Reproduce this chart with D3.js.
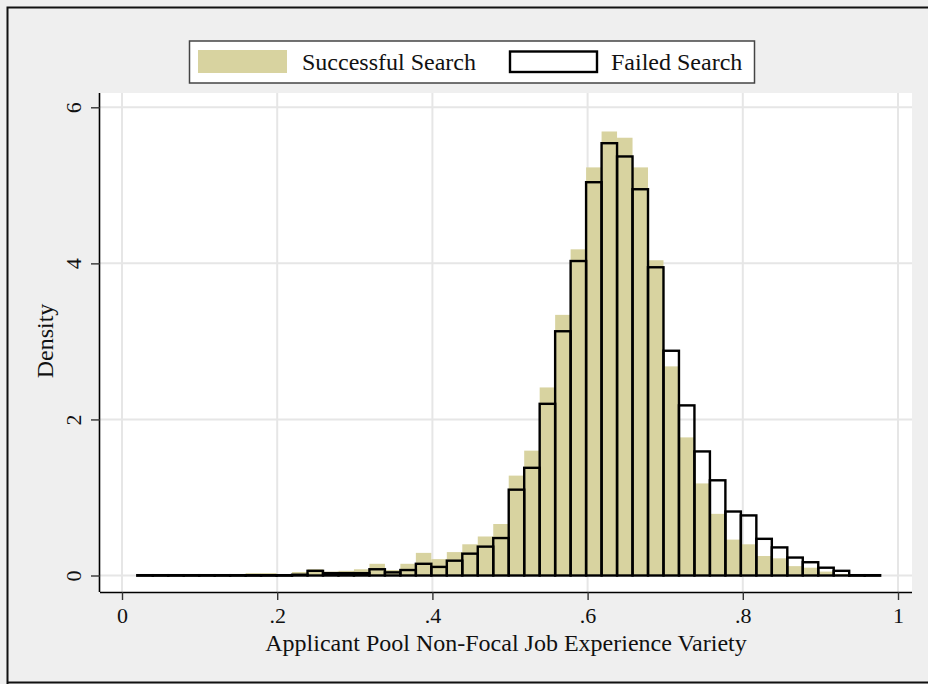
<!DOCTYPE html>
<html>
<head>
<meta charset="utf-8">
<script src="https://cdn.jsdelivr.net/npm/d3@7"></script>
<style>
  html, body { margin: 0; padding: 0; background: #efefef; }
  svg { display: block; }
  text { font-family: "Liberation Serif", "Times New Roman", serif; fill: #111; }
</style>
</head>
<body>
<svg id="chart" width="928" height="684"></svg>
<script>
// ---- Data ----
const binLow = 0.0197;
const binHigh = 0.977;
const successDensity = [
  0, 0, 0, 0, 0, 0, 0, 0.03, 0.03, 0.005,
  0.045, 0.08, 0.05, 0.06, 0.08, 0.15, 0.07, 0.15, 0.29, 0.21,
  0.30, 0.40, 0.50, 0.66, 1.28, 1.60, 2.41, 3.34, 4.18, 5.23,
  5.69, 5.61, 5.23, 4.04, 2.68, 1.77, 1.18, 0.79, 0.46, 0.40,
  0.25, 0.22, 0.12, 0.10, 0.05, 0.02, 0.005, 0
];
const failedDensity = [
  0.004, 0.004, 0.004, 0.004, 0.004, 0.004, 0.004, 0.004, 0.004, 0.004,
  0.01, 0.06, 0.03, 0.03, 0.03, 0.08, 0.04, 0.07, 0.15, 0.11,
  0.19, 0.28, 0.37, 0.48, 1.10, 1.38, 2.20, 3.13, 4.03, 5.04,
  5.54, 5.37, 4.95, 3.95, 2.88, 2.18, 1.59, 1.22, 0.82, 0.77,
  0.47, 0.36, 0.23, 0.17, 0.10, 0.06, 0.004, 0.004
];
const xTicks = [0, 0.2, 0.4, 0.6, 0.8, 1];
const xTickLabels = ["0", ".2", ".4", ".6", ".8", "1"];
const yTicks = [0, 2, 4, 6];
const yTickLabels = ["0", "2", "4", "6"];
const seriesNames = ["Successful Search", "Failed Search"];
const xTitle = "Applicant Pool Non-Focal Job Experience Variety";
const yTitle = "Density";

// ---- Layout ----
const svg = d3.select("#chart");
const W = 928, H = 684;
const plot = { left: 100, right: 912, top: 93, bottom: 592 };
const colSuccess = "#d8d3a0";
const gridCol = "#e6e6e6";
const fs = 24;
const tickFs = 22;

const x = d3.scaleLinear().domain([0, 1]).range([122, 898]);
const y = d3.scaleLinear().domain([0, 6]).range([575.5, 107.3]);

const nBins = successDensity.length;
const binW = (binHigh - binLow) / nBins;
const bins = d3.range(nBins).map(i => ({
  x0: binLow + i * binW,
  x1: binLow + (i + 1) * binW,
  s: successDensity[i],
  f: failedDensity[i]
}));

// background
svg.append("rect").attr("x", 0).attr("y", 0).attr("width", W).attr("height", H).attr("fill", "#efefef");
// outer frame
svg.append("path")
  .attr("d", `M7.5,${H + 2} V7.5 H${W + 2} M7.5,682.5 H${W + 2}`)
  .attr("fill", "none").attr("stroke", "#111").attr("stroke-width", 2);

// plot region
svg.append("rect")
  .attr("x", plot.left).attr("y", plot.top)
  .attr("width", plot.right - plot.left).attr("height", plot.bottom - plot.top)
  .attr("fill", "#ffffff");

// gridlines
const g = svg.append("g");
g.selectAll(".vg").data(xTicks).join("line")
  .attr("x1", d => x(d)).attr("x2", d => x(d))
  .attr("y1", plot.top).attr("y2", plot.bottom)
  .attr("stroke", gridCol).attr("stroke-width", 2);
g.selectAll(".hg").data(yTicks).join("line")
  .attr("x1", plot.left).attr("x2", plot.right)
  .attr("y1", d => y(d)).attr("y2", d => y(d))
  .attr("stroke", gridCol).attr("stroke-width", 2);

// successful bars
svg.append("g").selectAll("rect").data(bins.filter(b => b.s > 0)).join("rect")
  .attr("x", d => x(d.x0)).attr("width", d => x(d.x1) - x(d.x0))
  .attr("y", d => y(d.s)).attr("height", d => y(0) - y(d.s))
  .attr("fill", colSuccess);

// failed bars (outline)
svg.append("g").selectAll("rect").data(bins).join("rect")
  .attr("x", d => x(d.x0)).attr("width", d => x(d.x1) - x(d.x0))
  .attr("y", d => y(d.f)).attr("height", d => Math.max(0.5, y(0) - y(d.f)))
  .attr("fill", "none").attr("stroke", "#000").attr("stroke-width", 2.4);

// axes
const xAxis = d3.axisBottom(x).tickValues(xTicks)
  .tickFormat((d, i) => xTickLabels[i]).tickSize(8).tickPadding(7);
const gx = svg.append("g").attr("transform", `translate(0,${plot.bottom})`).call(xAxis);
gx.select(".domain").attr("d", `M${plot.left},0.5H${plot.right}`).attr("stroke", "#000").attr("stroke-width", 1.6);
gx.selectAll(".tick line").attr("stroke", "#333").attr("stroke-width", 1.4);
gx.selectAll(".tick text").attr("font-size", tickFs).attr("font-family", "Liberation Serif").attr("fill", "#111");

const yAxis = d3.axisLeft(y).tickValues(yTicks)
  .tickFormat((d, i) => yTickLabels[i]).tickSize(9).tickPadding(8);
const gy = svg.append("g").attr("transform", `translate(${plot.left},0)`).call(yAxis);
gy.select(".domain").attr("d", `M-0.5,${plot.top}V${plot.bottom}`).attr("stroke", "#000").attr("stroke-width", 1.6);
gy.selectAll(".tick line").attr("stroke", "#333").attr("stroke-width", 1.4);
gy.selectAll(".tick text")
  .attr("font-size", tickFs).attr("font-family", "Liberation Serif").attr("fill", "#111")
  .attr("text-anchor", "middle").attr("dy", null).attr("x", null)
  .attr("transform", "translate(-19,0) rotate(-90)");

// axis titles
svg.append("text").attr("x", 506).attr("y", 651).attr("text-anchor", "middle")
  .attr("font-size", fs).text(xTitle);
svg.append("text").attr("transform", "translate(53,341) rotate(-90)").attr("text-anchor", "middle")
  .attr("font-size", fs).text(yTitle);

// legend
const lg = svg.append("g");
lg.append("rect").attr("x", 189.5).attr("y", 41).attr("width", 565).attr("height", 42)
  .attr("fill", "#fff").attr("stroke", "#444").attr("stroke-width", 1.5);
lg.append("rect").attr("x", 198).attr("y", 50).attr("width", 89).attr("height", 23).attr("fill", colSuccess);
lg.append("text").attr("x", 302).attr("y", 70).attr("font-size", fs).text(seriesNames[0]);
lg.append("rect").attr("x", 510).attr("y", 51.5).attr("width", 87).attr("height", 20.5)
  .attr("fill", "#fff").attr("stroke", "#000").attr("stroke-width", 2.4);
lg.append("text").attr("x", 611).attr("y", 70).attr("font-size", fs).text(seriesNames[1]);
</script>
</body>
</html>
